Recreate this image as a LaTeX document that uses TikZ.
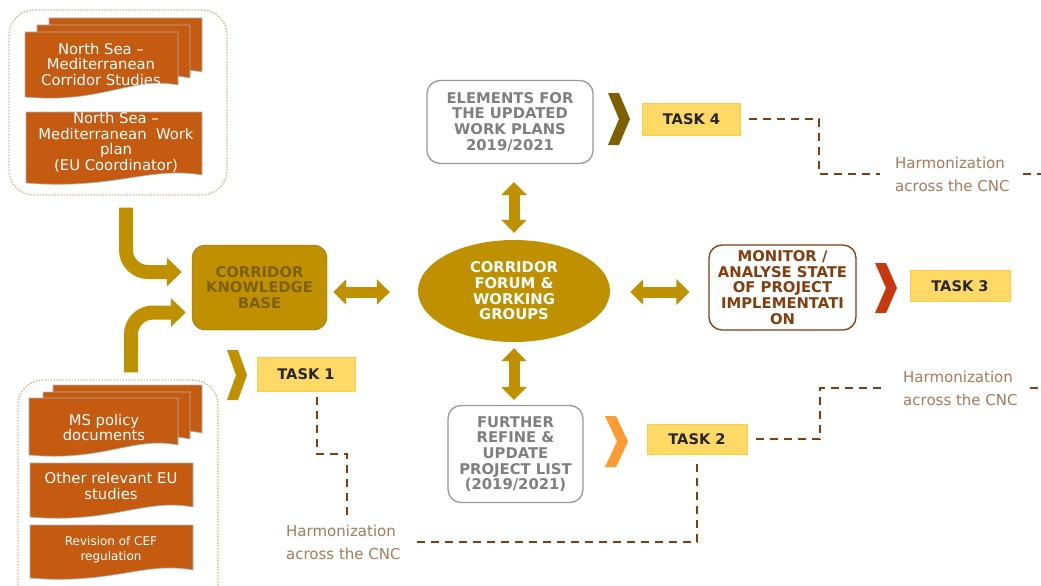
\documentclass[tikz,border=0pt]{standalone}
\usepackage{fontspec}
\setmainfont{DejaVu Sans}
\usetikzlibrary{arrows.meta,shapes.geometric}
\definecolor{docfill}{HTML}{C55A11}
\definecolor{gold}{HTML}{BF9000}
\definecolor{darkgold}{HTML}{7F6000}
\definecolor{brownline}{HTML}{843C0C}
\definecolor{harmtext}{HTML}{A8795C}
\definecolor{taskfill}{HTML}{FFD966}
\definecolor{taskline}{HTML}{FFC94A}
\definecolor{grpline}{HTML}{C9B991}
\definecolor{graytxt}{HTML}{7F7F7F}
\definecolor{redchev}{HTML}{C8380E}
\definecolor{orangechev}{HTML}{FF9B33}

\newcommand\docshape[5]{% x1 ytop x2 yleftbottom yrightbottom
  \filldraw[fill=docfill, draw=gray!60, line width=0.6pt] (#1,#2) -- (#3,#2) -- (#3,#5)
    .. controls ({#3-0.3*(#3-#1)},{#5-9}) and ({#1+0.5*(#3-#1)},{#4+7}) .. (#1,#4) -- cycle;}
\newcommand\chev[5]{% x0 ytop x1 ybottom colour
  \fill[#5] (#1,#2) -- ({#1+11},#2) -- (#3,{(#2+#4)/2}) -- ({#1+11},#4) -- (#1,#4) -- ({#3-11},{(#2+#4)/2}) -- cycle;}

\tikzset{
  grp/.style={draw=grpline, line width=1.3pt, dash pattern=on 1.5pt off 1.5pt, rounded corners=25pt, inner sep=0pt},
  doctext/.style={text=white, align=center, font=\fontsize{14.8}{15.5}\selectfont, inner sep=1pt},
  boldtxt/.style={font=\bfseries\fontsize{14.8}{15.7}\selectfont, align=center, inner sep=2pt},
  whitebox/.style={boldtxt, draw=gray!80, line width=1.3pt, fill=white, rounded corners=13pt},
  taskbox/.style={fill=taskfill, draw=taskline, line width=0.8pt, minimum width=98pt, minimum height=32pt,
    font=\bfseries\fontsize{14.6}{15}\selectfont, text=black!85},
  bigarrow/.style={draw=gold, line width=14pt, rounded corners=22pt, -{Triangle[width=28pt,length=15pt]}},
  dblarrow/.style={draw=gold, line width=11pt, {Triangle[width=25pt,length=13pt]}-{Triangle[width=25pt,length=13pt]}},
  dashline/.style={draw=brownline, line width=2pt, dash pattern=on 8pt off 6pt},
  harm/.style={text=harmtext, align=left, font=\fontsize{15}{23}\selectfont, inner sep=0pt, anchor=west},
}

\begin{document}
\begin{tikzpicture}[x=1pt,y=-1pt]
\useasboundingbox (0,0) rectangle (1041,586);
\clip (0,0) rectangle (1041,586);
\fill[white] (0,0) rectangle (1041,586);

% left groups
\node[grp, minimum width=218pt, minimum height=185pt] (grp1) at (118,102.5) {};
\node[grp, minimum width=200pt, minimum height=230pt] (grp2) at (118,495) {};

% top-left documents
\docshape{49}{18}{202}{80}{72}
\docshape{37}{25}{190}{88}{78}
\docshape{25}{32}{178}{97}{85}
\docshape{26}{112}{202}{183}{175}
\node[doctext] (d1) at (101,64) {North Sea –\\Mediterranean\\Corridor Studies};
\node[doctext] (d2) at (116,142.5) {North Sea –\\Mediterranean~~Work\\plan\\(EU Coordinator)};

% bottom-left documents
\docshape{53}{385}{202}{441}{433}
\docshape{43}{392}{190}{448}{439}
\docshape{29}{398}{178}{455}{445}
\docshape{30}{463}{193}{517}{507}
\docshape{30}{525}{193}{578}{570}
\node[doctext] (d3) at (104,427.5) {MS policy\\documents};
\node[doctext] (d4) at (111,486) {Other relevant EU\\studies};
\node[doctext, font=\fontsize{12}{15}\selectfont] (d5) at (111,549.5) {Revision of CEF\\regulation};

% central nodes
\node[boldtxt, draw=darkgold, fill=gold, rounded corners=13pt, minimum width=135pt, minimum height=85pt, text=darkgold] (ckb) at (259.5,287.5) {CORRIDOR\\KNOWLEDGE\\BASE};
\node[boldtxt, ellipse, fill=gold, minimum width=192pt, minimum height=102pt, inner sep=0pt, text=white] (forum) at (514,291) {CORRIDOR\\FORUM \&\\WORKING\\GROUPS};
\node[whitebox, text=graytxt, minimum width=166pt, minimum height=83pt] (elem) at (510,122) {ELEMENTS FOR\\THE UPDATED\\WORK PLANS\\2019/2021};
\node[whitebox, text=graytxt, minimum width=135pt, minimum height=97pt] (further) at (515.5,454) {FURTHER\\REFINE \&\\UPDATE\\PROJECT LIST\\(2019/2021)};
\node[whitebox, draw=brownline, text=brownline, minimum width=147pt, minimum height=85pt] (monitor) at (782.5,287.5) {MONITOR /\\ANALYSE STATE\\OF PROJECT\\IMPLEMENTATI\\ON};

% tasks
\node[taskbox] (task4) at (691.5,119) {TASK 4};
\node[taskbox, minimum width=100pt, minimum height=31pt] (task3) at (960,286) {TASK 3};
\node[taskbox, minimum width=100pt, minimum height=30pt] (task2) at (697,439) {TASK 2};
\node[taskbox, minimum height=34pt] (task1) at (306,374) {TASK 1};

% chevrons
\chev{608}{93}{630}{145}{darkgold}
\chev{875}{263}{897}{313}{redchev}
\chev{605}{416}{628}{467}{orangechev}
\chev{227}{350}{247}{400}{gold}

% harmonization labels
\node[harm] (h2) at (895,174) {Harmonization\\across the CNC};
\node[harm] (h3) at (903,388) {Harmonization\\across the CNC};
\node[harm] (h1) at (286,542) {Harmonization\\across the CNC};

% big bent arrows
\draw[bigarrow, shorten <=12pt, shorten >=10pt] ([xshift=8pt]grp1.south) |- ([yshift=15.5pt]ckb.west);
\draw[bigarrow, shorten <=7pt, shorten >=6pt] ([xshift=13pt]grp2.north) |- ([yshift=-25pt]ckb.west);

% double arrows
\coordinate (m1) at (0,292);
\draw[dblarrow, shorten <=6pt, shorten >=28pt] (ckb.east |- m1) -- (forum.west |- m1);
\draw[dblarrow, shorten <=20pt, shorten >=19pt] (forum.east |- m1) -- (monitor.west |- m1);
\draw[dblarrow, shorten <=18pt, shorten >=7pt] (forum.north |- elem.south) -- (forum.north);
\draw[dblarrow, shorten <=6pt, shorten >=5pt] (forum.south) -- (forum.south |- further.north);

% dashed connectors
\coordinate (c4) at (819,119);
\coordinate (e4) at (1050,174);
\draw[dashline, shorten <=8pt, shorten >=15pt] (task4.east) -- (c4) |- (h2.west);
\draw[dashline] ([xshift=13pt]h2.east) -- (e4);

\coordinate (c2) at (820,439);
\coordinate (e3) at (1050,388);
\draw[dashline, shorten <=9pt, shorten >=18pt] (task2.east) -- (c2) |- (h3.west);
\draw[dashline] ([xshift=12pt]h3.east) -- (e3);

\coordinate (b2) at (347,454);
\draw[dashline, shorten <=6pt, shorten >=8pt] ([xshift=11pt]task1.south) |- (b2) -- (b2 |- h1.north);
\draw[dashline, shorten <=16pt, shorten >=5pt] (h1.east) -| (task2.south);
\end{tikzpicture}
\end{document}
